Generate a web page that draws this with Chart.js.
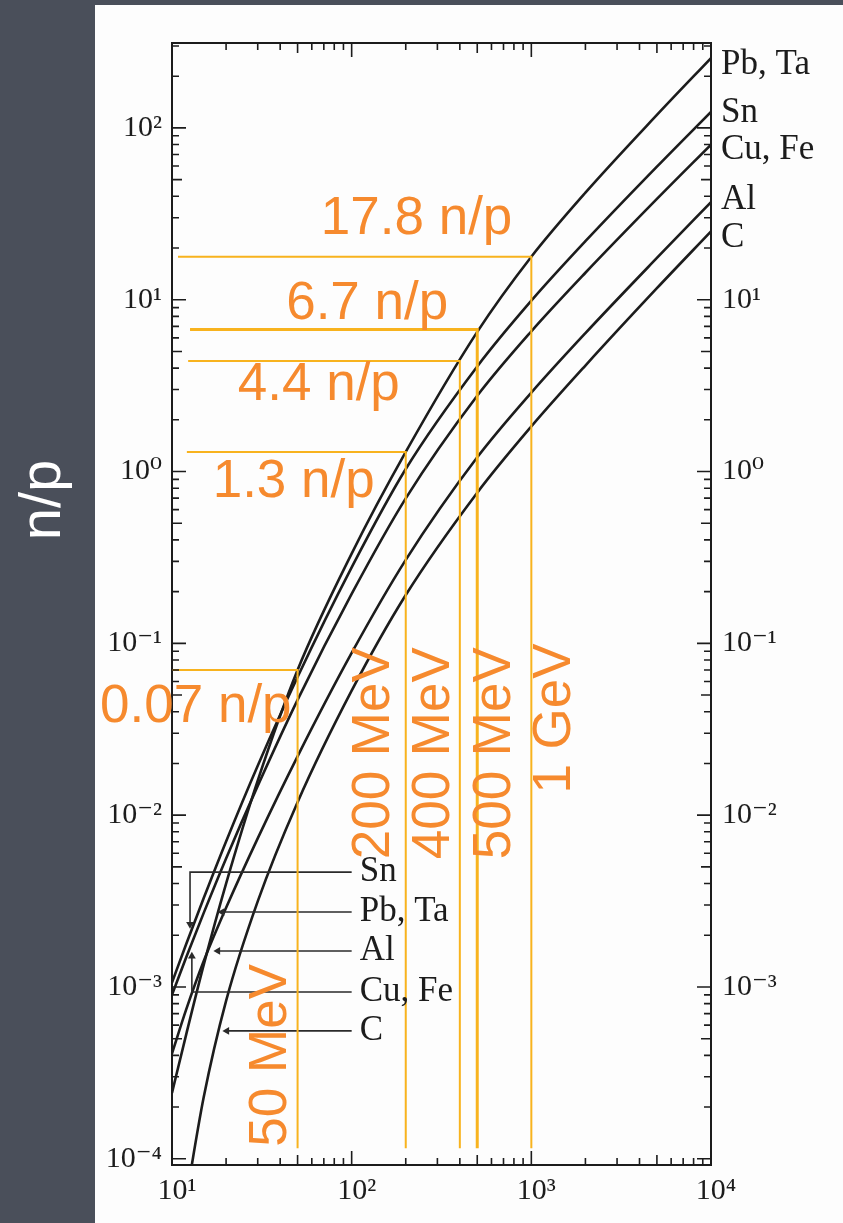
<!DOCTYPE html>
<html>
<head>
<meta charset="utf-8">
<title>Neutron yield per proton</title>
<script src="https://cdn.jsdelivr.net/npm/chart.js@4.4.0/dist/chart.umd.min.js"></script>
<style>
  html, body { margin: 0; padding: 0; }
  body { width: 843px; height: 1223px; background: #4a4f5a; position: relative; overflow: hidden; }
  #paper { position: absolute; left: 95px; top: 5px; right: 0; bottom: 0; background: #fdfdfd; }
  #yieldChart { position: absolute; left: 0; top: 0; }
</style>
</head>
<body>
<div id="paper"></div>
<canvas id="yieldChart" width="843" height="1223"></canvas>
<script>
var energy = [10, 12, 15, 20, 30, 50, 100, 200, 500, 1000, 2000, 5000, 10000];

// neutrons per proton for each target
var yieldPbTa = [2.42e-4, 5.3e-4, 1.34e-3, 4.0e-3, 0.0159, 0.07, 0.333, 1.3, 6.5, 17.8, 42, 119, 255];
var yieldSn   = [1.06e-3, 1.78e-3, 3.28e-3, 7.03e-3, 0.0194, 0.0637, 0.277, 1.035, 4.09, 9.87, 21.9, 59.5, 124];
var yieldCuFe = [9.0e-4, 1.49e-3, 2.69e-3, 5.6e-3, 0.0148, 0.0469, 0.194, 0.698, 2.76, 6.55, 14.35, 38.6, 80];
var yieldAl   = [4.1e-4, 7.4e-4, 1.41e-3, 2.89e-3, 7.33e-3, 0.022, 0.0879, 0.306, 1.21, 2.88, 6.39, 17.5, 37];
var yieldC    = [null, 5.9e-5, 2.27e-4, 8.3e-4, 3.15e-3, 0.0119, 0.053, 0.191, 0.753, 1.83, 4.14, 11.67, 25];
var targets = ['Pb, Ta', 'Sn', 'Cu, Fe', 'Al', 'C'];

// orange marks drawn over the scan
var markEnergy = [50, 200, 400, 500, 1000];
var markYield = [0.07, 1.3, 4.4, 6.7, 17.8];
var markStart = [10, 12.1, 12.3, 12.6, 10.8];
var markFloor = 1.15e-4;
var markEnergyText = ['50 MeV', '200 MeV', '400 MeV', '500 MeV', '1 GeV'];
var markYieldText = ['0.07 n/p', '1.3 n/p', '4.4 n/p', '6.7 n/p', '17.8 n/p'];

// key inside the plot (leader lines with arrows)
var keyNames = ['Sn', 'Pb, Ta', 'Al', 'Cu, Fe', 'C'];
var keyYield = [4.66e-3, 2.73e-3, 1.62e-3, 9.35e-4, 5.55e-4];
var keyTipEnergy = [12.6, 19, 18, 12.9, 20.2];
var keyTipYield = [2.32e-3, 2.73e-3, 1.62e-3, 1.51e-3, 5.55e-4];
var keyEnd = 100;

// axis ranges
var xMin = 10, xMax = 10000;
var yMin = 9.2e-5, yMax = 312;

var ink = '#1c1c1c';
var lineOrange = '#f8b31e';
var textOrange = '#f68a2e';
var serif = "'Liberation Serif', 'DejaVu Serif', serif";
var sans = "'Liberation Sans', Arial, sans-serif";

// where the orange texts sit relative to their marks (pixels)
var yieldTextPlace = [
  { dx: -6, dy: 37 }, { dx: -31, dy: 30 }, { dx: -60, dy: 24 }, { dx: -29, dy: -25 }, { dx: -19, dy: -37 }
];
var energyTextPlace = [
  { dx: -26, top: 1.36e-3 }, { dx: -31, top: 0.095 }, { dx: -25, top: 0.095 }, { dx: 18, top: 0.095 }, { dx: 24, top: 0.1 }
];
var endLabelShift = [7, 1, 5, -2, 6];

function supLabel(v) {
  var sup = { '-': '\u207B', '0': '\u2070', '1': '\u00B9', '2': '\u00B2', '3': '\u00B3', '4': '\u2074', '5': '\u2075' };
  var e = String(Math.round(Math.log10(v)));
  return '10' + e.split('').map(function (ch) { return sup[ch]; }).join('');
}

function powers(lo, hi) {
  var out = [];
  for (var e = lo; e <= hi; e++) out.push({ value: Math.pow(10, e) });
  return out;
}

var datasets = [];

// orange marks first so they sit on top
for (var i = 0; i < markEnergy.length; i++) {
  datasets.push({
    data: [
      { x: markStart[i], y: markYield[i] },
      { x: markEnergy[i], y: markYield[i] },
      { x: markEnergy[i], y: markFloor }
    ],
    borderColor: lineOrange,
    borderWidth: i === 3 ? 3 : 2,
    pointRadius: 0,
    tension: 0
  });
}

// leader lines of the inner key
for (i = 0; i < keyNames.length; i++) {
  var pts = [{ x: keyEnd, y: keyYield[i] }, { x: keyTipEnergy[i], y: keyYield[i] }];
  var rot = 270;
  if (keyTipYield[i] !== keyYield[i]) {
    pts.push({ x: keyTipEnergy[i], y: keyTipYield[i] });
    rot = keyTipYield[i] < keyYield[i] ? 180 : 0;
  }
  var radii = pts.map(function (p, j) { return j === pts.length - 1 ? 4.5 : 0; });
  datasets.push({
    data: pts,
    borderColor: '#2a2a2a',
    borderWidth: 1.6,
    pointStyle: 'triangle',
    pointRadius: radii,
    pointRotation: rot,
    pointBackgroundColor: '#2a2a2a',
    pointBorderWidth: 0,
    tension: 0
  });
}

// the five yield curves
var series = [yieldPbTa, yieldSn, yieldCuFe, yieldAl, yieldC];
series.forEach(function (vals) {
  var pts = [];
  energy.forEach(function (e, j) { if (vals[j] !== null) pts.push({ x: e, y: vals[j] }); });
  datasets.push({
    data: pts,
    borderColor: ink,
    borderWidth: 2.6,
    pointRadius: 0,
    cubicInterpolationMode: 'monotone'
  });
});

var scanMarks = {
  id: 'scanMarks',
  afterDraw: function (chart) {
    var ctx = chart.ctx, a = chart.chartArea;
    var xs = chart.scales.x, ys = chart.scales.y;
    var e, k, v, len, p;
    ctx.save();

    // inward ticks on all four sides of the frame
    ctx.strokeStyle = ink;
    ctx.lineWidth = 1.6;
    ctx.beginPath();
    for (e = 1; e <= 4; e++) {
      for (k = 1; k <= 9; k++) {
        v = k * Math.pow(10, e);
        if (v > xMax * 1.0001) continue;
        p = xs.getPixelForValue(v);
        len = k === 1 ? 14 : (k === 5 ? 10 : 7);
        ctx.moveTo(p, a.bottom); ctx.lineTo(p, a.bottom - len);
        ctx.moveTo(p, a.top); ctx.lineTo(p, a.top + len);
      }
    }
    for (e = -5; e <= 2; e++) {
      for (k = 1; k <= 9; k++) {
        v = k * Math.pow(10, e);
        if (v < yMin || v > yMax) continue;
        p = ys.getPixelForValue(v);
        len = k === 1 ? 14 : (k === 5 ? 10 : 7);
        ctx.moveTo(a.left, p); ctx.lineTo(a.left + len, p);
        ctx.moveTo(a.right, p); ctx.lineTo(a.right - len, p);
      }
    }
    ctx.stroke();

    // element names at the right ends of the curves
    ctx.fillStyle = ink;
    ctx.font = '35px ' + serif;
    ctx.textAlign = 'left';
    ctx.textBaseline = 'middle';
    series.forEach(function (vals, j) {
      var last = vals[vals.length - 1];
      ctx.fillText(targets[j], a.right + 10, ys.getPixelForValue(last) + endLabelShift[j]);
    });

    // inner key names
    keyNames.forEach(function (name, j) {
      ctx.fillText(name, xs.getPixelForValue(keyEnd) + 8, ys.getPixelForValue(keyYield[j]));
    });

    // orange yield texts
    ctx.fillStyle = textOrange;
    ctx.font = '53px ' + sans;
    ctx.textAlign = 'right';
    markYield.forEach(function (val, j) {
      var px = xs.getPixelForValue(markEnergy[j]);
      var py = ys.getPixelForValue(val);
      ctx.fillText(markYieldText[j], px + yieldTextPlace[j].dx, py + yieldTextPlace[j].dy);
    });

    // orange energy texts, rotated, reading upwards and ending at the anchor
    markEnergy.forEach(function (en, j) {
      ctx.save();
      ctx.translate(xs.getPixelForValue(en) + energyTextPlace[j].dx, ys.getPixelForValue(energyTextPlace[j].top));
      ctx.rotate(-Math.PI / 2);
      ctx.textAlign = 'right';
      ctx.fillText(markEnergyText[j], 0, 0);
      ctx.restore();
    });

    // axis name on the dark margin
    ctx.save();
    ctx.fillStyle = '#ffffff';
    ctx.font = '58px ' + sans;
    ctx.translate(44, 500);
    ctx.rotate(-Math.PI / 2);
    ctx.textAlign = 'center';
    ctx.fillText('n/p', 0, 0);
    ctx.restore();

    ctx.restore();
  }
};

var tickFont = { family: serif, size: 30 };
var frame = { display: true, color: ink, width: 2 };

var chart = new Chart(document.getElementById('yieldChart'), {
  type: 'line',
  data: { datasets: datasets },
  options: {
    responsive: false,
    animation: false,
    plugins: { legend: { display: false }, tooltip: { enabled: false } },
    scales: {
      x: {
        type: 'logarithmic', position: 'bottom', min: xMin, max: xMax,
        afterBuildTicks: function (s) { s.ticks = powers(1, 4); },
        afterFit: function (s) { s.height = 58; },
        grid: { display: false, drawTicks: false },
        border: frame,
        ticks: { callback: supLabel, autoSkip: false, maxRotation: 0, padding: 8, labelOffset: 5, color: ink, font: tickFont }
      },
      x2: {
        type: 'logarithmic', position: 'top', min: xMin, max: xMax,
        afterBuildTicks: function (s) { s.ticks = powers(1, 4); },
        afterFit: function (s) { s.height = 43; },
        grid: { display: false, drawTicks: false },
        border: frame,
        ticks: { display: false }
      },
      y: {
        type: 'logarithmic', position: 'left', min: yMin, max: yMax,
        afterBuildTicks: function (s) { s.ticks = powers(-4, 2); },
        afterFit: function (s) { s.width = 172; },
        grid: { display: false, drawTicks: false },
        border: frame,
        ticks: { callback: supLabel, autoSkip: false, padding: 10, color: ink, font: tickFont }
      },
      y2: {
        type: 'logarithmic', position: 'right', min: yMin, max: yMax,
        afterBuildTicks: function (s) { s.ticks = powers(-3, 1); },
        afterFit: function (s) { s.width = 132; },
        grid: { display: false, drawTicks: false },
        border: frame,
        ticks: { callback: supLabel, autoSkip: false, padding: 11, color: ink, font: tickFont }
      }
    }
  },
  plugins: [scanMarks]
});
</script>
</body>
</html>
